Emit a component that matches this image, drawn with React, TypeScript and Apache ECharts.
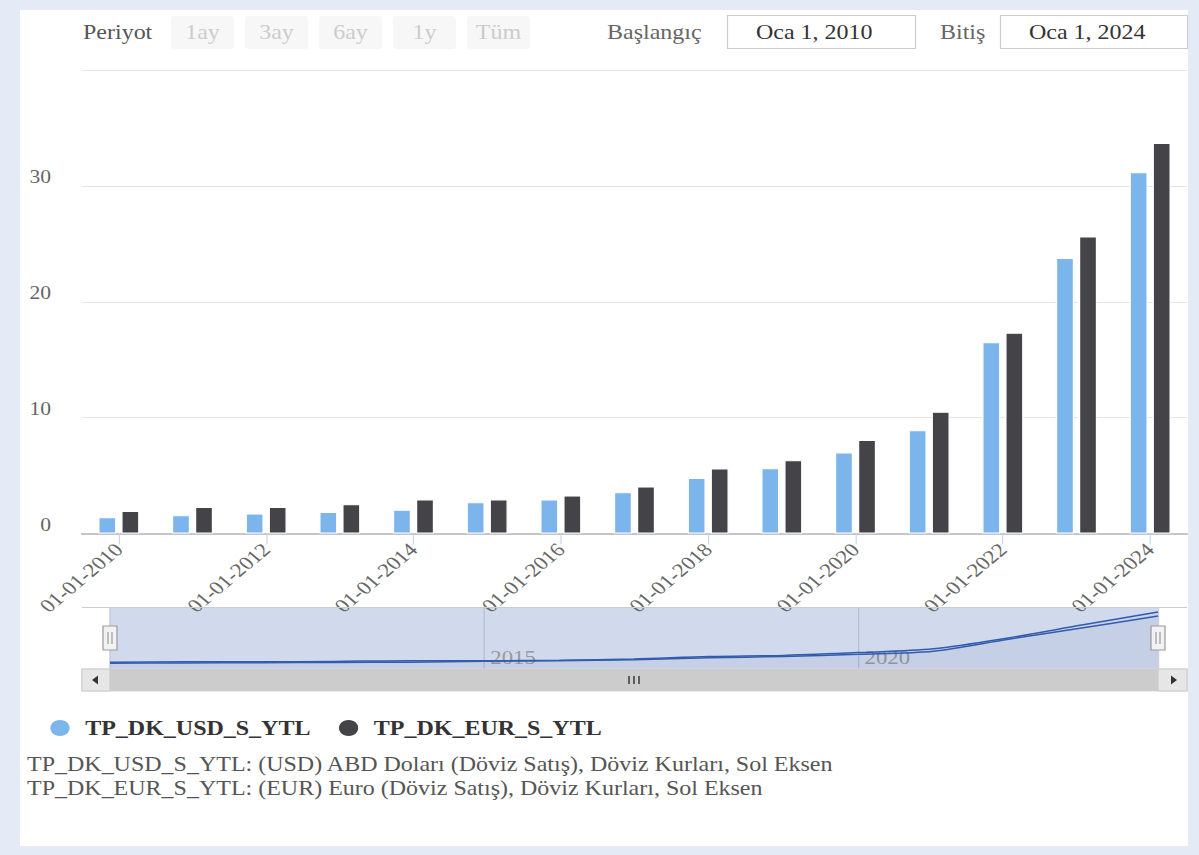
import React, { useEffect, useRef } from 'react';
import * as echarts from 'echarts';

const years = ['2010', '2011', '2012', '2013', '2014', '2015', '2016', '2017', '2018', '2019', '2020', '2021', '2022', '2023', '2024'];
const navYears = [2010, 2011, 2012, 2013, 2014, 2015, 2016, 2017, 2018, 2019, 2020, 2021, 2022, 2023, 2024];
const usdValues = [1.4, 1.58, 1.72, 1.85, 2.05, 2.7, 2.93, 3.57, 4.8, 5.64, 7.0, 8.9, 16.5, 23.77, 31.17];
const eurValues = [1.95, 2.28, 2.28, 2.52, 2.94, 2.94, 3.27, 4.05, 5.62, 6.32, 8.07, 10.5, 17.32, 25.64, 33.7];
const seriesNames = ['TP_DK_USD_S_YTL', 'TP_DK_EUR_S_YTL'];
const seriesColors = ['#7cb5ec', '#434348'];
const rangeButtons = ['1ay', '3ay', '6ay', '1y', 'Tüm'];
const navLabels = [2015, 2020];
const descriptions = [
  'TP_DK_USD_S_YTL: (USD) ABD Doları (Döviz Satış), Döviz Kurları, Sol Eksen',
  'TP_DK_EUR_S_YTL: (EUR) Euro (Döviz Satış), Döviz Kurları, Sol Eksen',
];
const startLabel = 'Başlangıç';
const endLabel = 'Bitiş';
const startDate = 'Oca 1, 2010';
const endDate = 'Oca 1, 2024';

const S = 1.2;
const X = (v: number) => v / S;
const FF = '"Liberation Serif", "Times New Roman", serif';

function txt(ix: number, y: number, s: string, size: number, color: string, align = 'left', weight = 'normal') {
  return {
    type: 'text',
    x: X(ix),
    y,
    z: 20,
    style: {
      text: s,
      fontSize: size,
      fontFamily: FF,
      fontWeight: weight,
      fill: color,
      align,
      verticalAlign: 'middle',
      textAlign: align,
      textVerticalAlign: 'middle',
    },
  };
}

function buildGraphic() {
  const g: any[] = [];
  g.push(txt(83, 32, 'Periyot', 20, '#555'));
  rangeButtons.forEach((b, i) => {
    const bx = 171 + i * 74;
    g.push({ type: 'rect', z: 10, shape: { x: X(bx), y: 16, width: X(63), height: 33, r: 3 }, style: { fill: '#f7f7f7' } });
    g.push(txt(bx + 31.5, 32.5, b, 20, '#cccccc', 'center'));
  });
  g.push(txt(607, 32, startLabel, 20, '#666'));
  g.push({ type: 'rect', z: 10, shape: { x: X(727.5), y: 15.5, width: X(188), height: 33 }, style: { fill: '#fff', stroke: '#cccccc', lineWidth: 1 } });
  g.push(txt(756, 32, startDate, 20, '#333'));
  g.push(txt(940, 32, endLabel, 20, '#666'));
  g.push({ type: 'rect', z: 10, shape: { x: X(1000.5), y: 15.5, width: X(187), height: 33 }, style: { fill: '#fff', stroke: '#cccccc', lineWidth: 1 } });
  g.push(txt(1029, 32, endDate, 20, '#333'));

  // navigator outline
  g.push({ type: 'line', z: 10, shape: { x1: X(82), y1: 607.5, x2: X(1187), y2: 607.5 }, style: { stroke: '#cccccc', lineWidth: 1 } });
  // scrollbar
  g.push({ type: 'rect', z: 10, shape: { x: X(82), y: 669, width: X(1105), height: 22 }, style: { fill: '#f2f2f2', stroke: '#dcdcdc', lineWidth: 1 } });
  g.push({ type: 'rect', z: 11, shape: { x: X(110), y: 669, width: X(1048), height: 22 }, style: { fill: '#cccccc' } });
  g.push({ type: 'rect', z: 11, shape: { x: X(82), y: 669, width: X(28), height: 22 }, style: { fill: '#e6e6e6', stroke: '#cccccc', lineWidth: 1 } });
  g.push({ type: 'rect', z: 11, shape: { x: X(1158), y: 669, width: X(29), height: 22 }, style: { fill: '#e6e6e6', stroke: '#cccccc', lineWidth: 1 } });
  g.push({ type: 'polygon', z: 12, shape: { points: [[X(92), 680], [X(98), 675.5], [X(98), 684.5]] }, style: { fill: '#333' } });
  g.push({ type: 'polygon', z: 12, shape: { points: [[X(1177), 680], [X(1171), 675.5], [X(1171), 684.5]] }, style: { fill: '#333' } });
  [629, 634, 639].forEach((rx) => {
    g.push({ type: 'line', z: 12, shape: { x1: X(rx), y1: 676, x2: X(rx), y2: 684 }, style: { stroke: '#333', lineWidth: 1.2 } });
  });
  // handles
  [110, 1158].forEach((cx) => {
    g.push({ type: 'rect', z: 12, shape: { x: X(cx - 7), y: 626, width: X(14), height: 24 }, style: { fill: '#f2f2f2', stroke: '#999999', lineWidth: 1 } });
    g.push({ type: 'line', z: 13, shape: { x1: X(cx - 2), y1: 632, x2: X(cx - 2), y2: 644 }, style: { stroke: '#999999', lineWidth: 1 } });
    g.push({ type: 'line', z: 13, shape: { x1: X(cx + 2), y1: 632, x2: X(cx + 2), y2: 644 }, style: { stroke: '#999999', lineWidth: 1 } });
  });
  // descriptions
  descriptions.forEach((d, i) => {
    g.push(txt(27, 764 + i * 24, d, 20, '#555'));
  });
  return g;
}

export default function App() {
  const ref = useRef<HTMLDivElement | null>(null);
  useEffect(() => {
    if (!ref.current) return;
    const chart = echarts.init(ref.current, null, { renderer: 'svg' });
    const option: any = {
      animation: false,
      textStyle: { fontFamily: FF },
      legend: {
        data: seriesNames,
        left: X(48),
        top: 718,
        padding: 0,
        icon: 'circle',
        itemWidth: 18,
        itemHeight: 18,
        itemGap: X(26),
        selectedMode: false,
        textStyle: { fontSize: 20, fontWeight: 'bold', color: '#333', fontFamily: FF, padding: [0, 0, 0, 7] },
      },
      grid: [
        { left: X(82), top: 70, width: X(1105), height: 463.5 },
        { left: X(110), top: 607, width: X(1048), height: 62, show: true, backgroundColor: 'rgba(102,133,194,0.3)', borderWidth: 0 },
      ],
      xAxis: [
        {
          type: 'category',
          gridIndex: 0,
          data: years,
          boundaryGap: true,
          axisLine: { lineStyle: { color: '#c2c5cc', width: 2 } },
          axisTick: { show: true, interval: 1, alignWithLabel: true, length: 11, lineStyle: { color: '#ccd6eb' } },
          axisLabel: {
            interval: 1,
            rotate: 45,
            margin: 13,
            fontSize: 19,
            color: '#666',
            fontFamily: FF,
            formatter: (v: string) => `01-01-${v}`,
          },
        },
        {
          type: 'value',
          gridIndex: 1,
          min: 2010,
          max: 2024,
          interval: 5,
          axisLine: { show: false },
          axisTick: { show: false },
          splitLine: { show: true, lineStyle: { color: 'rgba(150,160,190,0.5)', width: 1 } },
          axisLabel: {
            inside: true,
            margin: 2,
            fontSize: 19,
            color: '#999',
            align: 'left',
            padding: [0, 0, 0, X(6)],
            fontFamily: FF,
            formatter: (v: number) => (navLabels.includes(v) ? String(v) : ''),
          },
        },
      ],
      yAxis: [
        {
          type: 'value',
          gridIndex: 0,
          min: 0,
          max: 40,
          interval: 10,
          axisLine: { show: false },
          axisTick: { show: false },
          splitLine: { lineStyle: { color: '#e6e6e6', width: 1 } },
          axisLabel: { showMaxLabel: false, fontSize: 18, color: '#666', margin: X(31), verticalAlign: 'bottom', fontFamily: FF },
        },
        { type: 'value', gridIndex: 1, min: -2.27, max: 36.87, show: false, splitLine: { show: false } },
      ],
      series: [
        {
          type: 'bar',
          name: seriesNames[0],
          data: usdValues,
          barWidth: X(18),
          barGap: '28%',
          itemStyle: { color: seriesColors[0], borderColor: '#ffffff', borderWidth: 1 },
        },
        {
          type: 'bar',
          name: seriesNames[1],
          data: eurValues,
          barWidth: X(18),
          barGap: '28%',
          itemStyle: { color: seriesColors[1], borderColor: '#ffffff', borderWidth: 1 },
        },
        {
          type: 'line',
          name: 'nav-eur',
          xAxisIndex: 1,
          yAxisIndex: 1,
          data: navYears.map((y, i) => [y, eurValues[i]]),
          smooth: 0.3,
          showSymbol: false,
          silent: true,
          lineStyle: { color: '#335cad', width: 1.5 },
          areaStyle: { color: 'rgba(51,92,173,0.05)', origin: 'start' },
        },
        {
          type: 'line',
          name: 'nav-usd',
          xAxisIndex: 1,
          yAxisIndex: 1,
          data: navYears.map((y, i) => [y, usdValues[i]]),
          smooth: 0.3,
          showSymbol: false,
          silent: true,
          lineStyle: { color: '#335cad', width: 1.5 },
          areaStyle: { color: 'rgba(51,92,173,0.05)', origin: 'start' },
        },
      ],
      graphic: { elements: buildGraphic() },
    };
    chart.setOption(option);
    return () => chart.dispose();
  }, []);

  return (
    <div style={{ position: 'absolute', left: 0, top: 0, width: 1199, height: 855, background: '#e4ebf6', overflow: 'hidden' }}>
      <div style={{ position: 'absolute', left: 20, top: 10, width: 1168, height: 836, background: '#ffffff' }} />
      <div
        ref={ref}
        style={{ position: 'absolute', left: 0, top: 0, width: 1199 / S, height: 855, transform: `scaleX(${S})`, transformOrigin: '0 0' }}
      />
    </div>
  );
}
